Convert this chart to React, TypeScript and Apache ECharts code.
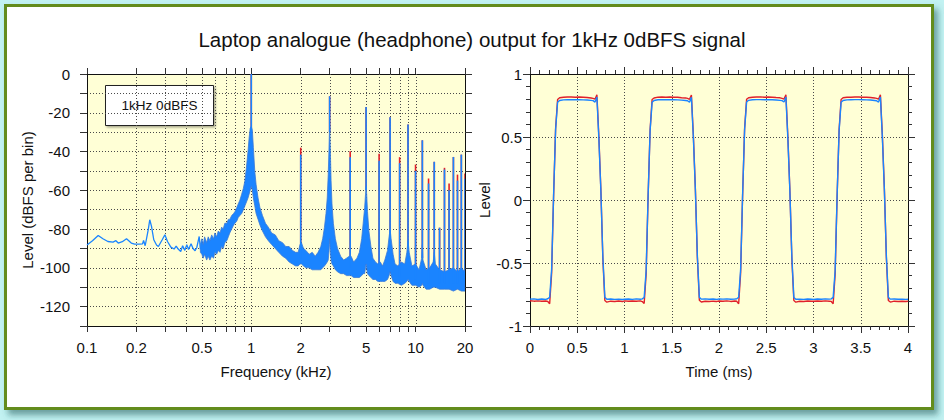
import React, { useEffect, useRef } from 'react';
import * as echarts from 'echarts';

const TITLE = 'Laptop analogue (headphone) output for 1kHz 0dBFS signal';
const LEGEND_TEXT = '1kHz 0dBFS';

// ---- Spectrum: thin low-frequency trace (kHz, dBFS per bin)
const lowFreq = [
  0.1, 0.108, 0.117, 0.125, 0.134, 0.144, 0.15, 0.155, 0.164, 0.174,
  0.186, 0.195, 0.207, 0.218, 0.221, 0.226, 0.236, 0.241, 0.247, 0.255,
  0.265, 0.272, 0.287, 0.298, 0.309, 0.324, 0.339, 0.349, 0.359, 0.372,
  0.382, 0.394, 0.405, 0.415, 0.43, 0.442, 0.455, 0.466, 0.482, 0.49,
];
const lowLevel = [
  -88.2, -86.0, -83.3, -85.0, -86.4, -86.7, -86.0, -87.2, -86.5, -85.0,
  -87.2, -87.8, -87.8, -87.6, -85.9, -88.6, -80.3, -75.2, -78.6, -85.5,
  -88.2, -89.0, -85.5, -82.9, -86.4, -89.3, -90.3, -88.8, -90.3, -91.6,
  -88.6, -91.0, -88.1, -90.5, -87.6, -90.0, -91.2, -89.5, -83.8, -90.5,
];

// ---- Spectrum: noisy band (upper / lower envelope)
const bandFreq = [
  0.49, 0.50, 0.51, 0.52, 0.535, 0.547, 0.56, 0.574, 0.59, 0.60,
  0.615, 0.63, 0.645, 0.66, 0.675, 0.69, 0.71, 0.725, 0.74, 0.76,
  0.78, 0.795, 0.815, 0.833, 0.853, 0.874, 0.895, 0.915, 0.935, 0.955,
  0.97, 0.985, 1.0, 1.015, 1.03, 1.05, 1.07, 1.10, 1.13, 1.17,
  1.22, 1.27, 1.33, 1.40, 1.47, 1.55, 1.62, 1.70, 1.78, 1.86,
  1.93, 1.98, 2.02, 2.08, 2.15, 2.25, 2.35, 2.45, 2.55, 2.65,
  2.72, 2.79, 2.85, 2.90, 2.94, 2.97, 2.99, 3.0, 3.01, 3.03,
  3.06, 3.10, 3.16, 3.25, 3.35, 3.5, 3.65, 3.8, 3.95, 4.05,
  4.2, 4.4, 4.55, 4.7, 4.8, 4.9, 4.96, 5.0, 5.04, 5.1,
  5.2, 5.35, 5.5, 5.7, 5.9, 6.1, 6.3, 6.5, 6.75, 6.9,
  7.0, 7.1, 7.3, 7.5, 7.8, 8.2, 8.6, 8.85, 9.0, 9.15,
  9.5, 10.0, 10.5, 10.9, 11.0, 11.1, 11.6, 12.2, 12.8, 13.0,
  13.2, 14.0, 15.0, 16.0, 17.0, 18.0, 19.0, 20.0,
];
const bandTop = [
  -88, -85, -88, -84, -87, -84, -86, -83, -85, -82,
  -84, -81, -82, -79, -80, -77, -77, -75, -75, -73,
  -72, -71, -69, -67, -65, -62, -59, -55, -48, -40,
  -33, -28, -27, -29, -38, -50, -57, -64, -69, -73,
  -77, -79, -82, -83, -86, -87, -89, -89, -91, -92,
  -92, -88, -87, -90, -91, -93, -92, -94, -92, -89,
  -85, -79, -72, -64, -52, -40, -30, -27, -30, -40,
  -55, -67, -77, -85, -90, -94, -96, -95, -94, -94,
  -97, -95, -92, -85, -77, -69, -62, -58, -62, -71,
  -81, -89, -95, -97, -98, -97, -99, -96, -91, -84,
  -80, -85, -93, -98, -99, -97, -98, -92, -86, -92,
  -99, -98, -101, -95, -88, -96, -101, -100, -97, -92,
  -98, -101, -102, -101, -100, -102, -100, -102,
];
const bandBottom = [
  -92, -93, -95, -93, -96, -94, -96, -94, -95, -92,
  -93, -91, -92, -89, -90, -87, -86, -84, -82, -80,
  -78, -77, -76, -74, -73, -72, -70, -68, -66, -64,
  -62, -60, -58, -60, -64, -68, -72, -75, -78, -81,
  -84, -86, -88, -90, -92, -94, -95, -97, -98, -99,
  -99, -98, -98, -99, -100, -100, -101, -101, -101, -101,
  -100, -99, -98, -97, -96, -92, -88, -85, -88, -92,
  -96, -98, -99, -101, -102, -103, -103, -104, -104, -104,
  -105, -105, -105, -104, -103, -103, -100, -98, -100, -103,
  -104, -105, -106, -106, -107, -107, -107, -107, -106, -104,
  -102, -104, -107, -108, -108, -109, -108, -107, -106, -107,
  -109, -109, -110, -109, -108, -109, -111, -111, -110, -110,
  -110, -111, -111, -111, -112, -111, -112, -112,
];

// ---- Harmonic peaks (kHz, dBFS): blue and red channels, spike foot level
const harmFreq = [1, 2, 3, 4, 5, 6, 7, 8, 9, 10, 11, 12, 13, 14, 15, 16, 17, 18, 19, 20];
const harmBlue = [0, -41.6, -11.5, -43, -17, -44.7, -22.3, -46, -26.1, -50, -34.2, -56.5, -45.3, -79.3, -49.3, -60, -42.8, -55, -41.6, -54];
const harmRed = [0, -38, -11.5, -39.8, -17, -41.2, -22.3, -42.9, -26.1, -46.7, -34.2, -53.9, -45.3, -79.3, -48.4, -56.5, -42.8, -51.9, -41.6, -51.3];
const harmFoot = [-30, -95, -30, -100, -60, -104, -85, -105, -90, -106, -95, -108, -100, -108, -108, -108, -108, -108, -108, -108];

// ---- Frequency axis ticks / labels / grid
const freqTicks = [0.1, 0.2, 0.3, 0.4, 0.5, 0.6, 0.7, 0.8, 0.9, 1, 2, 3, 4, 5, 6, 7, 8, 9, 10, 20];
const freqLabels = [0.1, 0.2, 0.5, 1, 2, 5, 10, 20];
const freqGrid = [0.2, 0.3, 0.4, 0.5, 0.6, 0.7, 0.8, 0.9, 1, 2, 3, 4, 5, 6, 7, 8, 9, 10];

// ---- Time domain (ms, level)
const timeMs = [
  0.000, 0.042, 0.083, 0.125, 0.167, 0.188, 0.208, 0.229, 0.250, 0.271, 0.292, 0.313, 0.354, 0.396, 0.438, 0.479,
  0.521, 0.563, 0.604, 0.646, 0.667, 0.688, 0.708, 0.729, 0.750, 0.771, 0.792, 0.813, 0.854, 0.896, 0.938, 0.979,
  1.000, 1.042, 1.083, 1.125, 1.167, 1.188, 1.208, 1.229, 1.250, 1.271, 1.292, 1.313, 1.354, 1.396, 1.438, 1.479,
  1.521, 1.563, 1.604, 1.646, 1.667, 1.688, 1.708, 1.729, 1.750, 1.771, 1.792, 1.813, 1.854, 1.896, 1.938, 1.979,
  2.000, 2.042, 2.083, 2.125, 2.167, 2.188, 2.208, 2.229, 2.250, 2.271, 2.292, 2.313, 2.354, 2.396, 2.438, 2.479,
  2.521, 2.563, 2.604, 2.646, 2.667, 2.688, 2.708, 2.729, 2.750, 2.771, 2.792, 2.813, 2.854, 2.896, 2.938, 2.979,
  3.000, 3.042, 3.083, 3.125, 3.167, 3.188, 3.208, 3.229, 3.250, 3.271, 3.292, 3.313, 3.354, 3.396, 3.438, 3.479,
  3.521, 3.563, 3.604, 3.646, 3.667, 3.688, 3.708, 3.729, 3.750, 3.771, 3.792, 3.813, 3.854, 3.896, 3.938, 3.979,
  4.000,
];
const blueLevel = [
  -0.787, -0.785, -0.790, -0.786, -0.789, -0.784, -0.773, -0.55, 0.05, 0.56, 0.776, 0.790, 0.795, 0.796, 0.797, 0.796,
  0.797, 0.795, 0.794, 0.791, 0.789, 0.777, 0.818, 0.48, 0.07, -0.45, -0.772, -0.788, -0.786, -0.789, -0.787, -0.790,
  -0.788, -0.786, -0.789, -0.785, -0.788, -0.785, -0.774, -0.56, 0.04, 0.55, 0.775, 0.790, 0.796, 0.797, 0.796, 0.797,
  0.796, 0.795, 0.793, 0.790, 0.788, 0.776, 0.816, 0.49, 0.08, -0.44, -0.771, -0.787, -0.785, -0.788, -0.786, -0.789,
  -0.786, -0.787, -0.785, -0.788, -0.786, -0.784, -0.772, -0.55, 0.05, 0.56, 0.777, 0.791, 0.796, 0.797, 0.797, 0.796,
  0.797, 0.796, 0.794, 0.791, 0.789, 0.778, 0.817, 0.48, 0.07, -0.45, -0.773, -0.788, -0.787, -0.789, -0.786, -0.788,
  -0.789, -0.786, -0.788, -0.785, -0.787, -0.785, -0.773, -0.56, 0.04, 0.55, 0.776, 0.790, 0.795, 0.796, 0.797, 0.797,
  0.796, 0.795, 0.794, 0.790, 0.788, 0.777, 0.818, 0.49, 0.08, -0.44, -0.772, -0.787, -0.786, -0.788, -0.787, -0.789,
  -0.788,
];
const redLevel = [
  -0.800, -0.803, -0.801, -0.804, -0.802, -0.805, -0.823, -0.58, 0.04, 0.57, 0.798, 0.811, 0.815, 0.817, 0.817, 0.816,
  0.817, 0.815, 0.813, 0.810, 0.807, 0.800, 0.836, 0.50, 0.08, -0.47, -0.797, -0.811, -0.803, -0.805, -0.802, -0.806,
  -0.801, -0.804, -0.802, -0.803, -0.801, -0.806, -0.822, -0.59, 0.03, 0.56, 0.797, 0.810, 0.816, 0.817, 0.816, 0.817,
  0.816, 0.815, 0.812, 0.810, 0.806, 0.799, 0.834, 0.51, 0.09, -0.46, -0.796, -0.810, -0.804, -0.806, -0.803, -0.805,
  -0.802, -0.803, -0.801, -0.805, -0.802, -0.804, -0.824, -0.58, 0.04, 0.57, 0.799, 0.812, 0.816, 0.817, 0.818, 0.816,
  0.817, 0.816, 0.813, 0.811, 0.807, 0.801, 0.835, 0.50, 0.08, -0.47, -0.798, -0.811, -0.804, -0.805, -0.802, -0.804,
  -0.803, -0.802, -0.804, -0.801, -0.803, -0.805, -0.823, -0.59, 0.03, 0.56, 0.798, 0.811, 0.815, 0.816, 0.817, 0.817,
  0.816, 0.815, 0.813, 0.810, 0.806, 0.800, 0.836, 0.51, 0.09, -0.46, -0.797, -0.810, -0.803, -0.805, -0.803, -0.805,
  -0.804,
];

const FONT = '"Liberation Sans", Arial, Helvetica, sans-serif';
const BLUE = '#1a84ff';
const RED = '#e0202a';
const INK = '#111111';
const TICK = '#333333';
const GRIDLINE = '#4a4a4a';
const PLOT_BG = '#ffffd6';

function spikeSeries(tops: number[], color: string, z: number) {
  return {
    type: 'custom',
    xAxisIndex: 0,
    yAxisIndex: 0,
    z,
    clip: true,
    silent: true,
    data: harmFreq.map((f, i) => [f, tops[i], harmFoot[i]]),
    renderItem: (_p: any, api: any) => {
      const a = api.coord([api.value(0), api.value(2)]);
      const b = api.coord([api.value(0), api.value(1)]);
      return {
        type: 'line',
        shape: { x1: a[0], y1: a[1], x2: b[0], y2: b[1] },
        style: { stroke: color, lineWidth: 1.6 },
      };
    },
  };
}

function buildOption() {
  const tickLine = { lineStyle: { color: TICK, width: 1 } };
  const axisLine = { show: true, onZero: false, lineStyle: { color: INK, width: 1 } };
  const labelStyle = { color: INK, fontSize: 15, fontFamily: FONT };
  const dotted = { show: true, lineStyle: { color: GRIDLINE, width: 1, type: [1, 2] } };

  return {
    animation: false,
    backgroundColor: '#c2f2f2',
    textStyle: { fontFamily: FONT },
    title: {
      text: TITLE,
      left: 'center',
      top: 24,
      textStyle: { fontSize: 20.5, fontWeight: 'normal', color: INK, fontFamily: FONT },
    },
    graphic: [
      {
        type: 'rect',
        z: -10,
        silent: true,
        shape: { x: 5.5, y: 5.5, width: 927, height: 403 },
        style: {
          fill: '#ffffff',
          stroke: '#638c1a',
          lineWidth: 3,
          shadowBlur: 6,
          shadowOffsetX: 4,
          shadowOffsetY: 5,
          shadowColor: 'rgba(30,90,90,0.55)',
        },
      },
      {
        type: 'group',
        z: 100,
        silent: true,
        children: [
          {
            type: 'rect',
            shape: { x: 105.5, y: 85.5, width: 108, height: 40 },
            style: {
              fill: '#ffffff',
              stroke: '#222222',
              lineWidth: 1,
              shadowBlur: 2,
              shadowOffsetX: 1.5,
              shadowOffsetY: 1.5,
              shadowColor: 'rgba(0,0,0,0.35)',
            },
          },
          {
            type: 'text',
            x: 159.5,
            y: 105.5,
            style: {
              text: LEGEND_TEXT,
              fontSize: 13.5,
              fontFamily: FONT,
              fill: INK,
              align: 'center',
              verticalAlign: 'middle',
            },
          },
        ],
      },
    ],
    grid: [
      { left: 87, top: 74, width: 378, height: 252, show: true, backgroundColor: PLOT_BG, borderWidth: 0, outerBoundsMode: 'none' },
      { left: 530, top: 74, width: 378, height: 252, show: true, backgroundColor: PLOT_BG, borderWidth: 0, outerBoundsMode: 'none' },
    ],
    xAxis: [
      {
        type: 'log', logBase: 10, gridIndex: 0, min: 0.1, max: 20, position: 'bottom',
        name: 'Frequency (kHz)', nameLocation: 'middle', nameGap: 38,
        nameTextStyle: { ...labelStyle },
        axisLine,
        axisTick: { show: true, length: 6, customValues: freqTicks, ...tickLine },
        axisLabel: { show: true, customValues: freqLabels, margin: 14, ...labelStyle, formatter: (v: number) => String(v) },
        splitLine: { show: false },
        minorTick: { show: false },
        minorSplitLine: { show: false },
      },
      {
        type: 'log', logBase: 10, gridIndex: 0, min: 0.1, max: 20, position: 'top',
        axisLine,
        axisTick: { show: true, length: 6, customValues: freqTicks, ...tickLine },
        axisLabel: { show: false },
        splitLine: { show: false },
      },
      {
        type: 'value', gridIndex: 1, min: 0, max: 4, interval: 0.5, position: 'bottom',
        name: 'Time (ms)', nameLocation: 'middle', nameGap: 38,
        nameTextStyle: { ...labelStyle },
        axisLine,
        axisTick: { show: true, length: 7, ...tickLine },
        minorTick: { show: true, splitNumber: 5, length: 4, ...tickLine },
        axisLabel: { show: true, margin: 14, ...labelStyle },
        splitLine: dotted,
      },
      {
        type: 'value', gridIndex: 1, min: 0, max: 4, interval: 0.5, position: 'top',
        axisLine,
        axisTick: { show: true, length: 7, ...tickLine },
        minorTick: { show: true, splitNumber: 5, length: 4, ...tickLine },
        axisLabel: { show: false },
        splitLine: { show: false },
      },
    ],
    yAxis: [
      {
        type: 'value', gridIndex: 0, min: -130, max: 0, interval: 10, position: 'left',
        name: 'Level (dBFS per bin)', nameLocation: 'middle', nameGap: 52,
        nameTextStyle: { ...labelStyle },
        axisLine,
        axisTick: { show: true, length: 7, ...tickLine },
        axisLabel: {
          show: true, margin: 17, ...labelStyle,
          formatter: (v: number) => (Math.round(v) % 20 === 0 ? String(Math.round(v)) : ''),
        },
        splitLine: dotted,
      },
      {
        type: 'value', gridIndex: 0, min: -130, max: 0, interval: 10, position: 'right',
        axisLine,
        axisTick: { show: true, length: 7, ...tickLine },
        axisLabel: { show: false },
        splitLine: { show: false },
      },
      {
        type: 'value', gridIndex: 1, min: -1, max: 1, interval: 0.5, position: 'left',
        name: 'Level', nameLocation: 'middle', nameGap: 37,
        nameTextStyle: { ...labelStyle },
        axisLine,
        axisTick: { show: true, length: 7, ...tickLine },
        minorTick: { show: true, splitNumber: 5, length: 4, ...tickLine },
        axisLabel: { show: true, margin: 8, ...labelStyle },
        splitLine: dotted,
      },
      {
        type: 'value', gridIndex: 1, min: -1, max: 1, interval: 0.5, position: 'right',
        axisLine,
        axisTick: { show: true, length: 7, ...tickLine },
        minorTick: { show: true, splitNumber: 5, length: 4, ...tickLine },
        axisLabel: { show: false },
        splitLine: { show: false },
      },
    ],
    series: [
      // vertical dotted grid lines of the log frequency axis
      {
        type: 'custom',
        xAxisIndex: 0,
        yAxisIndex: 0,
        z: 1,
        silent: true,
        clip: true,
        data: freqGrid.map((f) => [f, -65]),
        renderItem: (_p: any, api: any) => {
          const a = api.coord([api.value(0), 0]);
          const b = api.coord([api.value(0), -130]);
          return {
            type: 'line',
            shape: { x1: Math.round(a[0]) + 0.5, y1: a[1], x2: Math.round(b[0]) + 0.5, y2: b[1] },
            style: { stroke: GRIDLINE, lineWidth: 1, lineDash: [1, 2] },
          };
        },
      },
      spikeSeries(harmRed, RED, 3),
      {
        type: 'custom',
        xAxisIndex: 0,
        yAxisIndex: 0,
        z: 4,
        silent: true,
        clip: true,
        data: [[1, -60]],
        renderItem: (_p: any, api: any) => {
          const up = bandFreq.map((f, i) => api.coord([f, bandTop[i]]));
          const lo = bandFreq.map((f, i) => api.coord([f, bandBottom[i]])).reverse();
          return {
            type: 'polygon',
            shape: { points: up.concat(lo) },
            style: { fill: BLUE, stroke: '#3a78d8', lineWidth: 0.8 },
          };
        },
      },
      {
        type: 'line',
        xAxisIndex: 0,
        yAxisIndex: 0,
        z: 5,
        silent: true,
        showSymbol: false,
        data: lowFreq.map((f, i) => [f, lowLevel[i]]),
        lineStyle: { color: BLUE, width: 1.3 },
      },
      spikeSeries(harmBlue, BLUE, 6),
      {
        type: 'line',
        xAxisIndex: 2,
        yAxisIndex: 2,
        z: 3,
        silent: true,
        showSymbol: false,
        data: timeMs.map((t, i) => [t, redLevel[i]]),
        lineStyle: { color: RED, width: 1.4 },
      },
      {
        type: 'line',
        xAxisIndex: 2,
        yAxisIndex: 2,
        z: 4,
        silent: true,
        showSymbol: false,
        data: timeMs.map((t, i) => [t, blueLevel[i]]),
        lineStyle: { color: BLUE, width: 1.4 },
      },
    ],
  };
}

export default function App() {
  const ref = useRef<HTMLDivElement>(null);
  useEffect(() => {
    if (!ref.current) return;
    const chart = echarts.init(ref.current, undefined, { renderer: 'svg' });
    chart.setOption(buildOption() as any);
    return () => chart.dispose();
  }, []);
  return (
    <div
      ref={ref}
      style={{ position: 'fixed', left: 0, top: 0, width: 944, height: 420 }}
    />
  );
}
